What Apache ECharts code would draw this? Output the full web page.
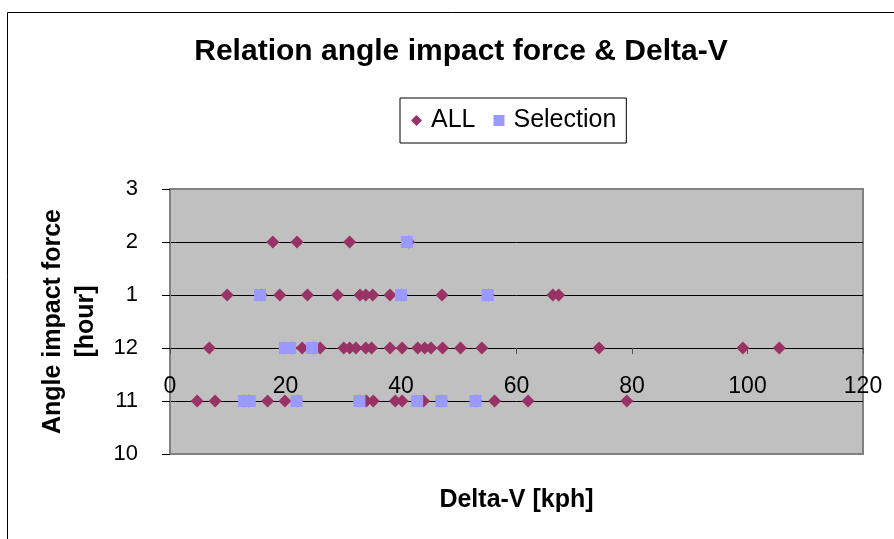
<!DOCTYPE html>
<html>
<head>
<meta charset="utf-8">
<script src="https://cdn.jsdelivr.net/npm/echarts@6/dist/echarts.min.js"></script>
<style>
  html, body { margin: 0; padding: 0; background: #fff; }
  #chart { width: 894px; height: 539px; }
</style>
</head>
<body>
<div id="chart"></div>
<script>
// Clock-face hour labels for the vertical axis (bottom to top)
const hourTicks = ['10', '11', '12', '1', '2', '3'];
// Position of each hour on the vertical value axis (12 o'clock sits at 0)
const hourPos = { '10': -2, '11': -1, '12': 0, '1': 1, '2': 2, '3': 3 };

// Delta-V [kph] of every case, grouped by impact-force hour
const allAt2  = [17.8, 22.0, 31.1, 41.3];
const allAt1  = [9.9, 15.8, 19.0, 23.8, 29.0, 32.9, 33.9, 35.1, 38.1, 40.1, 47.1, 55.1, 66.3, 67.3];
const allAt12 = [6.8, 19.9, 21.0, 22.9, 24.8, 26.0, 30.1, 31.1, 32.2, 33.9, 34.9, 38.1, 40.2, 42.9, 44.1, 45.2, 47.2, 50.3, 54.0, 74.3, 99.2, 105.5];
const allAt11 = [4.7, 7.8, 12.9, 13.6, 16.9, 19.9, 22.0, 32.9, 34.0, 35.2, 39.0, 40.2, 43.9, 47.1, 53.0, 56.2, 62.0, 79.1];

// Delta-V [kph] of the selected cases
const selAt2  = [41.0];
const selAt1  = [15.6, 40.0, 55.0];
const selAt12 = [19.9, 20.8, 24.6];
const selAt11 = [12.8, 13.8, 21.9, 32.8, 42.8, 47.0, 52.9];

function toPoints(groups) {
  const out = [];
  groups.forEach(([hour, list]) => list.forEach(v => out.push([v, hourPos[hour]])));
  return out;
}

const allData = toPoints([['2', allAt2], ['1', allAt1], ['12', allAt12], ['11', allAt11]]);
const selData = toPoints([['2', selAt2], ['1', selAt1], ['12', selAt12], ['11', selAt11]]);

const chart = echarts.init(document.getElementById('chart'), null, { renderer: 'canvas' });
const font = 'Liberation Sans, Arial, sans-serif';

// plot area geometry: the Delta-V axis crosses the hour axis at 12 o'clock
const gridTop = 189, gridBottom = 85, chartH = 539;
const plotH = chartH - gridTop - gridBottom;
const yMin = -2, yMax = 3;
const crossOffset = -plotH * (0 - yMin) / (yMax - yMin);

chart.setOption({
  animation: false,
  backgroundColor: '#ffffff',
  graphic: [{
    type: 'rect',
    shape: { x: 7.5, y: 12.5, width: 1000, height: 1000 },
    style: { fill: 'none', stroke: '#000', lineWidth: 1 },
    silent: true
  }],
  title: {
    text: 'Relation angle impact force & Delta-V',
    left: 456, top: 32, textAlign: 'center',
    textStyle: { fontFamily: font, fontSize: 30, fontWeight: 'bold', color: '#000' }
  },
  legend: {
    left: 400, top: 98,
    data: [
      { name: 'ALL', icon: 'diamond' },
      { name: 'Selection', icon: 'rect' }
    ],
    itemWidth: 11, itemHeight: 11, itemGap: 18,
    padding: [10, 10, 10, 11],
    borderColor: '#000', borderWidth: 1, borderRadius: 0,
    backgroundColor: '#fff',
    textStyle: { fontFamily: font, fontSize: 25, color: '#000', padding: [0, 0, 0, 4] }
  },
  grid: {
    left: 170, right: 31, top: gridTop, bottom: gridBottom,
    outerBoundsMode: 'none',
    show: true, backgroundColor: '#C0C0C0', borderColor: '#808080', borderWidth: 2
  },
  xAxis: {
    type: 'value', min: 0, max: 120, interval: 20,
    position: 'bottom', offset: crossOffset,
    name: 'Delta-V [kph]', nameLocation: 'middle', nameGap: 140,
    nameTextStyle: { fontFamily: font, fontSize: 25, fontWeight: 'bold', color: '#000' },
    axisLine: { onZero: false, lineStyle: { color: '#000', width: 1 } },
    axisTick: { show: true, length: 6, lineStyle: { color: '#555' } },
    axisLabel: { fontFamily: font, fontSize: 23, color: '#000', margin: 27 },
    splitLine: { show: false }
  },
  yAxis: {
    type: 'value', min: yMin, max: yMax, interval: 1,
    name: 'Angle impact force\n[hour]', nameLocation: 'middle', nameGap: 67, nameRotate: 90,
    nameTextStyle: { fontFamily: font, fontSize: 25, fontWeight: 'bold', color: '#000', lineHeight: 33 },
    axisLine: { show: true, onZero: false, lineStyle: { color: '#808080', width: 2 } },
    axisTick: { show: true, length: 8, lineStyle: { color: '#000' } },
    axisLabel: {
      fontFamily: font, fontSize: 22, color: '#000', margin: 32,
      formatter: v => hourTicks[v - yMin]
    },
    splitLine: {
      show: true,
      lineStyle: { color: ['#808080', '#000', '#000', '#000', '#000', '#808080'], width: 1 }
    }
  },
  series: [
    {
      name: 'ALL', type: 'scatter', symbol: 'diamond', symbolSize: 13,
      itemStyle: { color: '#993366', opacity: 1 },
      data: allData, z: 3
    },
    {
      name: 'Selection', type: 'scatter', symbol: 'rect', symbolSize: 12,
      itemStyle: { color: '#9999FF', opacity: 1 },
      data: selData, z: 4
    }
  ]
});
</script>
</body>
</html>
